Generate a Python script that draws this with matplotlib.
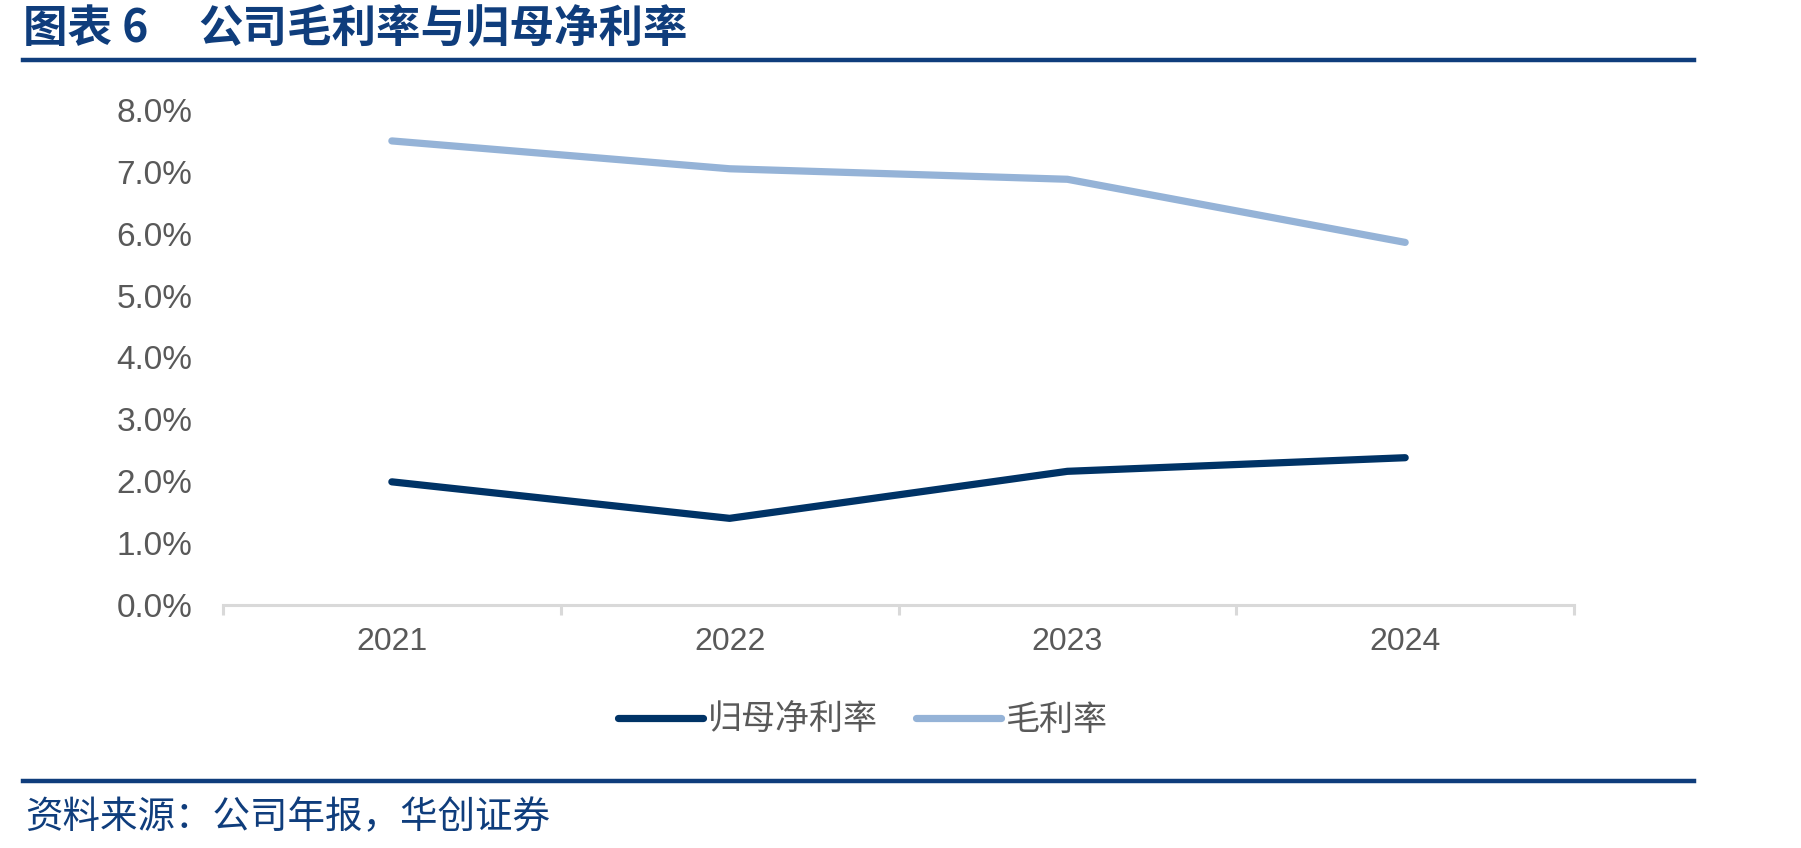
import matplotlib
matplotlib.use('Agg')
import matplotlib.pyplot as plt
from matplotlib.ticker import FuncFormatter, FixedLocator

plt.rcParams['font.family'] = ['Liberation Sans', 'Noto Sans CJK SC', 'DejaVu Sans']

years = ['2021', '2022', '2023', '2024']
net_margin = [1.99, 1.40, 2.16, 2.38]      # 归母净利率 (%)
gross_margin = [7.50, 7.05, 6.88, 5.86]    # 毛利率 (%)

title_tag = '图表 6'
title = '公司毛利率与归母净利率'
source = '资料来源：公司年报，华创证券'

dark = '#003366'
light = '#95B3D7'
blue = '#0F3D7C'
grey = '#595959'

fig = plt.figure(figsize=(18.01, 8.48), dpi=100)
ax = fig.add_axes([0.1238, 0.2866, 0.874 - 0.1238, 0.8703 - 0.2866])

x = list(range(len(years)))
ax.plot(x, net_margin, color=dark, lw=5.2, solid_capstyle='round', label='归母净利率')
ax.plot(x, gross_margin, color=light, lw=5.2, solid_capstyle='round', label='毛利率')

ax.set_xlim(-0.5, len(years) - 0.5)
ax.set_ylim(0, 8)
ax.set_yticks(range(0, 9))
ax.yaxis.set_major_formatter(FuncFormatter(lambda v, p: f'{v:.1f}%'))
ax.set_xticks(x)
ax.set_xticklabels(years)
ax.xaxis.set_minor_locator(FixedLocator([i - 0.5 for i in range(len(years) + 1)]))

for s in ['top', 'right', 'left']:
    ax.spines[s].set_visible(False)
ax.spines['bottom'].set_color('#D9D9D9')
ax.spines['bottom'].set_linewidth(2.2)

ax.tick_params(axis='y', length=0, labelsize=24, colors=grey, pad=22)
ax.tick_params(axis='x', which='major', length=0, labelsize=23, colors=grey, pad=16)
ax.tick_params(axis='x', which='minor', length=7, width=2.2, color='#D9D9D9')

leg = fig.legend(loc='center', bbox_to_anchor=(863 / 1801, 1 - 720 / 848), ncol=2,
                 frameon=False, handlelength=2.5, handletextpad=0.15, columnspacing=1.1,
                 prop={'family': ['Noto Sans CJK SC'], 'size': 24.5})
for t in leg.get_texts():
    t.set_color(grey)

cjk = ['Noto Sans CJK SC', 'DejaVu Sans']
fig.text(23 / 1801, 1 - 29 / 848, title_tag, fontsize=32, fontweight='bold', color=blue,
         family=cjk, va='center', ha='left')
fig.text(198 / 1801, 1 - 29 / 848, title, fontsize=32, fontweight='bold', color=blue,
         family=cjk, va='center', ha='left')
fig.add_artist(plt.Line2D([23 / 1801, 1694 / 1801], [1 - 60 / 848] * 2, color=blue, lw=3.2))
fig.add_artist(plt.Line2D([23 / 1801, 1694 / 1801], [1 - 781 / 848] * 2, color=blue, lw=3.2))
fig.text(25 / 1801, 1 - 818 / 848, source, fontsize=27, color=blue, style='italic',
         family=cjk, va='center', ha='left')

fig.savefig('out.png', dpi=100)
